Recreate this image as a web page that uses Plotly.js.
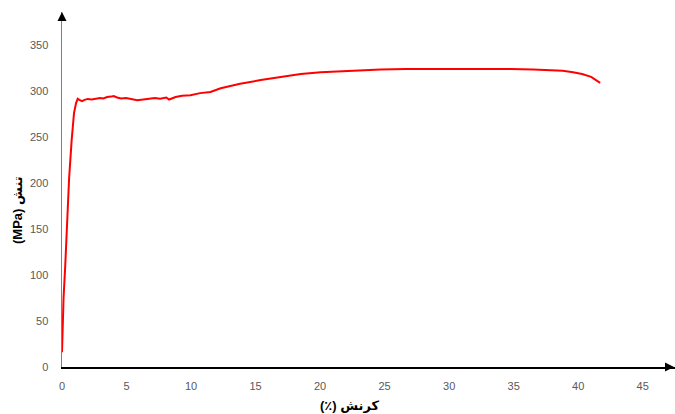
<!DOCTYPE html>
<html>
<head>
<meta charset="utf-8">
<script src="https://cdn.plot.ly/plotly-3.0.1.min.js"></script>
<style>html,body{margin:0;padding:0;background:#fff;}#chart{width:675px;height:414px;}</style>
</head>
<body>
<div id="chart"></div>
<script>
const strain = [0, 0.05, 0.12, 0.25, 0.4, 0.55, 0.75, 0.93, 1.09, 1.22, 1.35, 1.55, 1.75, 2.0, 2.3, 2.6, 2.95, 3.2, 3.5, 3.8, 4.0, 4.27, 4.58, 4.97, 5.36, 5.83, 6.3, 6.84, 7.2, 7.6, 8.08, 8.3, 8.8, 9.3, 9.95, 10.7, 11.5, 12.3, 13.05, 13.8, 15.4, 16.9, 18.5, 20.05, 21.6, 23.15, 24.7, 26.65, 29.4, 32.5, 34.8, 36.5, 37.8, 38.8, 39.6, 40.3, 41.0, 41.7];
const stress = [16, 45, 75, 110, 160, 205, 247, 276, 287, 291.6, 290.5, 289, 290.5, 291.5, 290.8, 291.5, 292.5, 292, 293.5, 294, 294.6, 293, 292, 292.6, 291.3, 290, 290.8, 291.3, 292.4, 291.8, 293, 290.8, 293.5, 295, 295.6, 297.8, 299, 303, 305.4, 308, 312, 315.5, 318.5, 320.6, 321.7, 322.8, 323.4, 324, 324.2, 324.2, 324, 323.6, 323, 322, 320.6, 318.6, 315.5, 309];
const xTicks = [0, 5, 10, 15, 20, 25, 30, 35, 40, 45];
const yTicks = [0, 50, 100, 150, 200, 250, 300, 350];
const xTitle = "(\u066A) کرنش";
const yTitle = "(MPa) تنش";

const tickFont = {family: "Liberation Sans, Arial, sans-serif", size: 11, color: "#595959"};
const titleFont = {family: "Liberation Sans, DejaVu Sans, sans-serif", size: 13, color: "#000"};

const data = [{
  x: strain, y: stress, type: "scatter", mode: "lines",
  line: {color: "#ff0000", width: 2},
  hoverinfo: "skip"
}];

const layout = {
  width: 675, height: 414,
  margin: {l: 62, r: 0, t: 12, b: 47},
  paper_bgcolor: "#fff", plot_bgcolor: "#fff",
  showlegend: false,
  xaxis: {
    range: [0, 47.5], tickvals: xTicks, ticktext: xTicks.map(String),
    showgrid: false, zeroline: false, showline: true, linecolor: "#000", linewidth: 1.5,
    ticks: "", tickfont: tickFont, ticklabelstandoff: 8
  },
  yaxis: {
    range: [0, 386], tickvals: yTicks, ticktext: yTicks.map(String),
    showgrid: false, zeroline: false, showline: true, linecolor: "#7f7f7f", linewidth: 1.5,
    ticks: "", tickfont: tickFont, ticklabelstandoff: 10
  },
  annotations: [
    {xref: "paper", yref: "paper", x: 0, y: 1, ax: 0, ay: 10, axref: "pixel", ayref: "pixel",
     showarrow: true, arrowhead: 2, arrowsize: 1.2, arrowwidth: 1.5, arrowcolor: "#000", text: ""},
    {xref: "paper", yref: "paper", x: 1, y: 0, ax: -10, ay: 0, axref: "pixel", ayref: "pixel",
     showarrow: true, arrowhead: 2, arrowsize: 1.2, arrowwidth: 1.5, arrowcolor: "#000", text: ""},
    {xref: "paper", yref: "paper", x: (350 - 62) / 613, y: -(405 - 367) / 355,
     xanchor: "center", yanchor: "middle", showarrow: false,
     text: "<b>" + xTitle + "</b>", font: titleFont},
    {xref: "paper", yref: "paper", x: -(62 - 18) / 613, y: (367 - 210) / 355,
     xanchor: "center", yanchor: "middle", showarrow: false, textangle: -90,
     text: "<b>" + yTitle + "</b>", font: titleFont}
  ]
};

Plotly.newPlot("chart", data, layout, {displayModeBar: false, staticPlot: true});
</script>
</body>
</html>
